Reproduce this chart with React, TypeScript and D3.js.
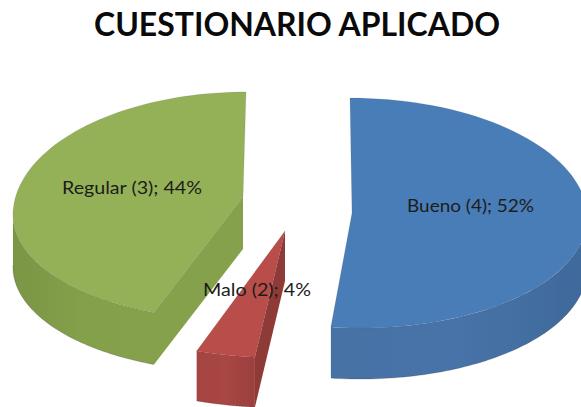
import React from "react";
import * as d3 from "d3";

const categories = ["Bueno", "Malo", "Regular"];
const counts = [4, 2, 3];
const percents = [52, 4, 44];
const titleText = "CUESTIONARIO APLICADO";

const W = 581;
const H = 407;

// Hand-fitted projection of each exploded wedge (perspective 3D pie)
const geometry = [
  { top: "#4A7DB7", wall: ["#4672A6", "#4673A8", "#40699A"], side: "#44709F", apex: [352, 213], cx: 355, cy: 215, rx: 232, ryTop: 117, ryBot: 113, skew: -5, depth: 51, sideWall: false, label: [470.5, 212], labelW: 127 },
  { top: "#B84D4A", wall: ["#A54442", "#A84644", "#9C403E"], side: "#8E3B39", apex: [285, 231], cx: 285, cy: 258, rx: 240, ryTop: 100, ryBot: 100, skew: 0, depth: 50, sideWall: true, label: [257, 296], labelW: 108 },
  { top: "#95B159", wall: ["#7A9644", "#84A04B", "#86A14B"], side: "#86A14B", apex: [243, 197], cx: 242, cy: 213, rx: 229, ryTop: 121, ryBot: 107, skew: 4, depth: 52, sideWall: true, label: [132, 194], labelW: 140 },
];
const drawOrder = [2, 0, 1];

const pie = d3.pie<number>().sort(null).value((d) => d);
const arcs = pie(percents);

function project(i: number, t: number, dz = 0): [number, number] {
  const g = geometry[i];
  const c = Math.cos(t);
  return [g.cx + g.rx * Math.sin(t) + g.skew * c, g.cy - c * (c > 0 ? g.ryTop : g.ryBot) + dz];
}

const line = d3.line<[number, number]>();

function rimPoints(i: number, a: number, b: number, dz = 0): [number, number][] {
  return d3.range(0, 81).map((k) => project(i, a + ((b - a) * k) / 80, dz));
}

export default function App() {
  return (
    <svg width={W} height={H} viewBox={`0 0 ${W} ${H}`} style={{ position: "absolute", left: 0, top: 0, background: "#fff" }}>
      <defs>
        <filter id="soft" x="-5%" y="-5%" width="110%" height="110%">
          <feGaussianBlur stdDeviation="0.55" />
        </filter>
        {geometry.map((g, i) => (
          <linearGradient key={i} id={`wall${i}`} x1="0" x2="1" y1="0" y2="0">
            {g.wall.map((c, k) => (
              <stop key={k} offset={k / (g.wall.length - 1)} stopColor={c} />
            ))}
          </linearGradient>
        ))}
      </defs>
      <g filter="url(#soft)">
        {drawOrder.map((i) => {
          const g = geometry[i];
          const a = arcs[i].startAngle;
          const b = arcs[i].endAngle;
          const rim = rimPoints(i, a, b);
          const apex = g.apex as [number, number];
          const apexLow: [number, number] = [apex[0], apex[1] + g.depth];
          // visible part of the rim wall: the lower half of the ellipse
          const lo = Math.max(a, Math.PI / 2);
          const hi = Math.min(b, (3 * Math.PI) / 2);
          const wallTop = rimPoints(i, lo, hi);
          const wallBot = rimPoints(i, lo, hi, g.depth).reverse();
          const frontEnd = i === 0 ? project(i, b) : project(i, a);
          const frontLow: [number, number] = [frontEnd[0], frontEnd[1] + g.depth];
          return (
            <g key={categories[i]}>
              {g.sideWall && <path d={line([apex, apexLow, frontLow, frontEnd])! + "Z"} fill={g.side} />}
              <path d={line([...wallTop, ...wallBot])! + "Z"} fill={`url(#wall${i})`} />
              <path d={line(rimPoints(i, lo, hi, g.depth))!} fill="none" stroke="#333" strokeOpacity={0.4} strokeWidth={0.6} />
              <path d={line([apex, ...rim])! + "Z"} fill={g.top} stroke="#333" strokeOpacity={0.22} strokeWidth={0.5} />
            </g>
          );
        })}
      </g>
      <text x={297} y={36} textAnchor="middle" fontFamily="Lato, sans-serif" fontWeight={700} fontSize={32} fill="#0a0a0a" textLength={406} lengthAdjust="spacingAndGlyphs">
        {titleText}
      </text>
      {categories.map((c, i) => (
        <text key={c} x={geometry[i].label[0]} y={geometry[i].label[1]} textAnchor="middle" fontFamily="Lato, sans-serif" fontSize={17} fill="#1c1c1c" textLength={geometry[i].labelW} lengthAdjust="spacingAndGlyphs">
          {`${c} (${counts[i]}); ${percents[i]}%`}
        </text>
      ))}
    </svg>
  );
}
